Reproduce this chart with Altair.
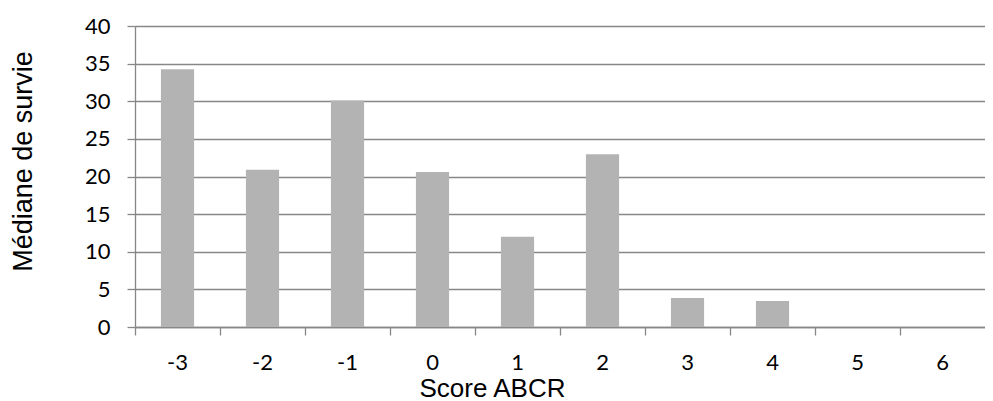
import altair as alt
import pandas as pd

scores = ["-3", "-2", "-1", "0", "1", "2", "3", "4", "5", "6"]
medians = [34.25, 20.9, 30.1, 20.6, 12.0, 22.95, 3.85, 3.45, 0, 0]
y_ticks = [0, 5, 10, 15, 20, 25, 30, 35, 40]

df = pd.DataFrame({"score": scores, "median": medians})

GRID = "#878787"
BAR = "#b3b3b3"
LABEL_FONT = "Lato"
TITLE_FONT = "Liberation Sans"

x_scale = alt.Scale(domain=scores, paddingInner=0, paddingOuter=0)
y_scale = alt.Scale(domain=[0, 40], nice=False)

bars = alt.Chart(df).mark_bar(color=BAR, width=alt.RelativeBandSize(0.39)).encode(
    x=alt.X("score:N", sort=scores, scale=x_scale,
            axis=alt.Axis(title="Score ABCR", orient="bottom", labelAngle=0,
                          ticks=False, tickSize=0, labelPadding=25,
                          labelFont=LABEL_FONT, labelFontSize=22, labelColor="#000000",
                          titleFont=TITLE_FONT, titleFontSize=26, titleFontWeight="normal",
                          titleColor="#000000", titleX=357, titleY=69,
                          titleBaseline="alphabetic",
                          domainColor=GRID, domainWidth=1.3, grid=False)),
    y=alt.Y("median:Q", scale=y_scale,
            axis=alt.Axis(title="Médiane de survie", values=y_ticks, labelOverlap=False,
                          tickSize=8, tickColor=GRID, tickWidth=1.3,
                          labelPadding=17, labelFont=LABEL_FONT, labelFontSize=22,
                          labelColor="#000000",
                          titleFont=TITLE_FONT, titleFontSize=27, titleFontWeight="normal",
                          titleColor="#000000", titleY=135, titlePadding=47,
                          grid=True, gridColor=GRID, gridWidth=1.3,
                          domainColor=GRID, domainWidth=1.3)),
)

ticks_layer = alt.Chart(df).mark_bar(opacity=0).encode(
    x=alt.X("score:N", sort=scores, scale=x_scale,
            axis=alt.Axis(title=None, orient="bottom", labels=False, bandPosition=0,
                          ticks=True, tickSize=8, tickColor=GRID, tickWidth=1.3,
                          domain=False, grid=False)),
)

chart = alt.layer(bars, ticks_layer).resolve_axis(x="independent").properties(
    width=850,
    height=301,
    autosize=alt.AutoSizeParams(type="none"),
    padding={"left": 127, "top": 18, "right": 0, "bottom": 74},
).configure_view(stroke=None).configure(background="#ffffff")

chart.save("out.html", embed_options={"renderer": "svg", "actions": False})
